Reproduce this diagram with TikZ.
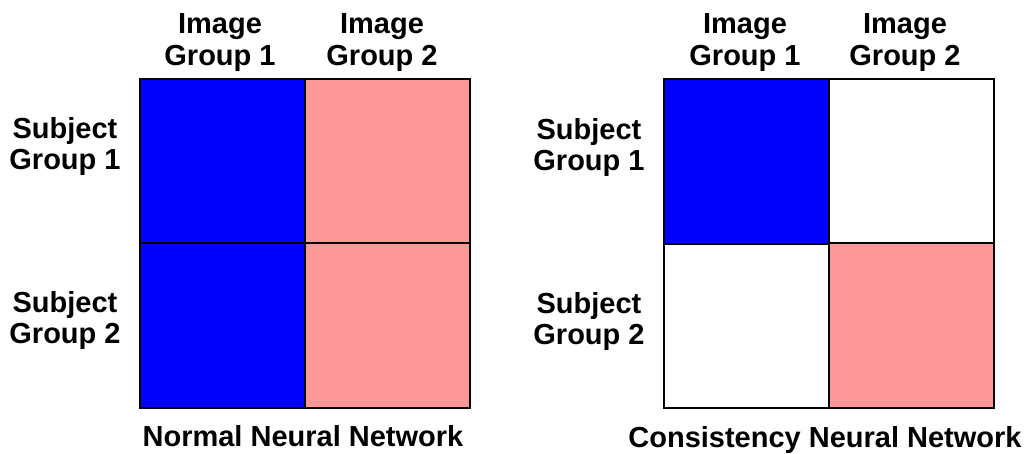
\documentclass[tikz,border=0pt]{standalone}
\usepackage{fontspec}
\setmainfont{Liberation Sans}
\definecolor{cblue}{RGB}{0,0,255}
\definecolor{cpink}{RGB}{255,153,153}
\begin{document}
\begin{tikzpicture}[x=1pt,y=-1pt,
  cell/.style={draw=black, line width=2pt, minimum width=165pt, minimum height=165pt, inner sep=0pt, anchor=north west},
  lab/.style={font=\bfseries\fontsize{29}{31.5}\selectfont, align=center, inner sep=0pt},
  title/.style={font=\bfseries\fontsize{29}{31.5}\selectfont, inner sep=0pt, anchor=base}]
\useasboundingbox[fill=white] (0,0) rectangle (1029,453);
% left grid
\node[cell, fill=cblue] (L11) at (139,77.5) {};
\node[cell, fill=cpink] (L12) at (304,77.5) {};
\node[cell, fill=cblue] (L21) at (139,242) {};
\node[cell, fill=cpink] (L22) at (304,242) {};
% right grid
\node[cell, fill=white] (R12) at (828,77.5) {};
\node[cell, fill=white] (R21) at (663,242) {};
\node[cell, fill=cblue] (R11) at (663,77.5) {};
\node[cell, fill=cpink] (R22) at (828,242) {};
% labels
\node[lab] (i1L) at (220,42.5) {Image\\Group 1};
\node[lab] (i2L) at (382,42.5) {Image\\Group 2};
\node[lab] (s1L) at (65,146.5) {Subject\\Group 1};
\node[lab] (s2L) at (65,320.5) {Subject\\Group 2};
\node[lab] (i1R) at (745,42.5) {Image\\Group 1};
\node[lab] (i2R) at (905,42.5) {Image\\Group 2};
\node[lab] (s1R) at (589,147.5) {Subject\\Group 1};
\node[lab] (s2R) at (589,321.5) {Subject\\Group 2};
\node[title] (tL) at (303,446) {Normal Neural Network};
\node[title] (tR) at (825,447) {Consistency Neural Network};
\end{tikzpicture}
\end{document}
